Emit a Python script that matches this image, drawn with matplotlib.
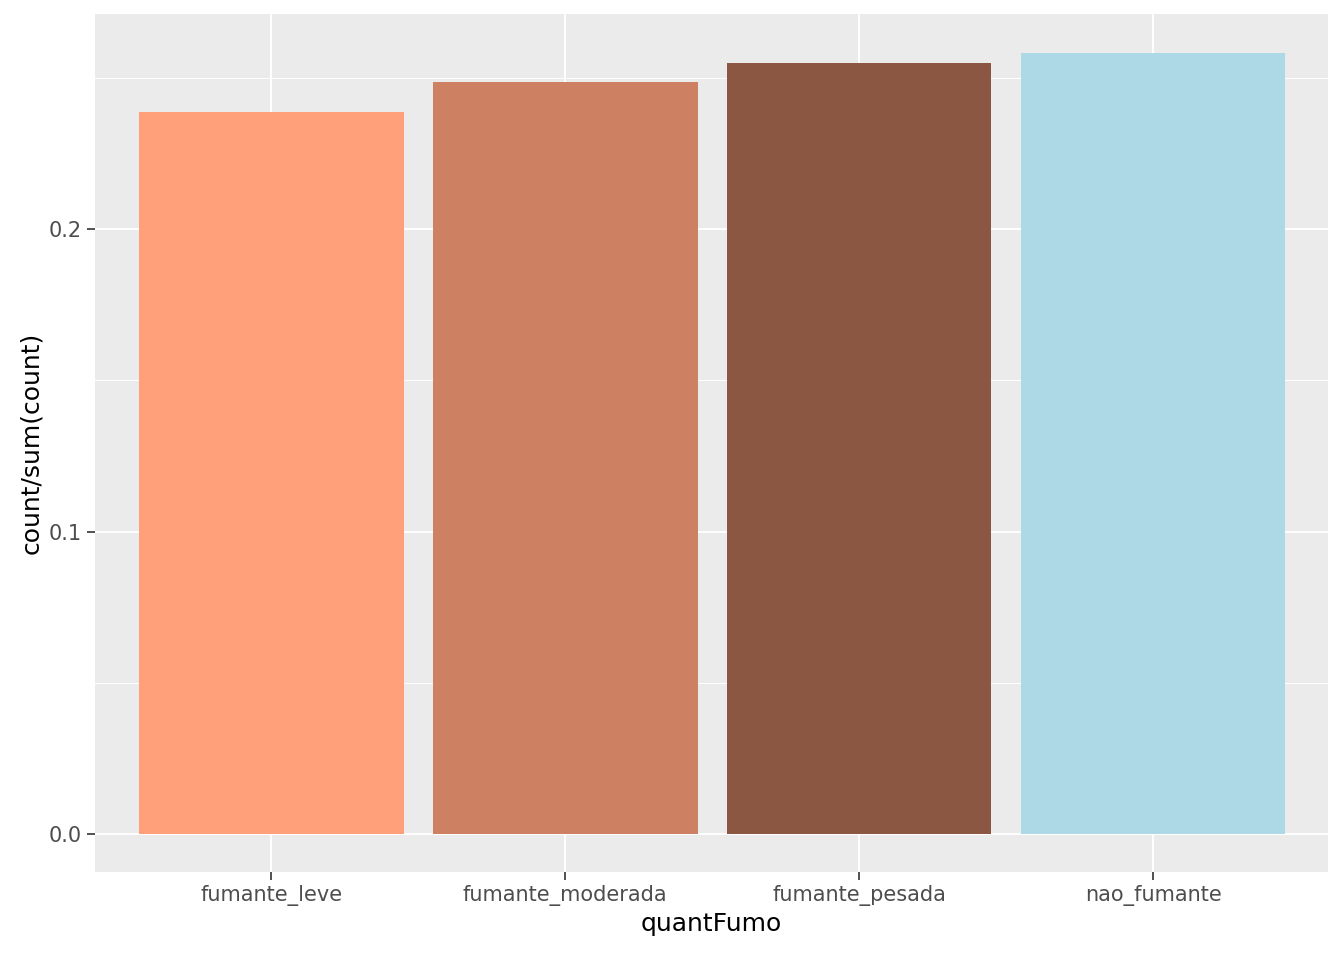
import matplotlib
matplotlib.use("Agg")
import matplotlib.pyplot as plt

categories = ["fumante_leve", "fumante_moderada", "fumante_pesada", "nao_fumante"]
values = [0.2387, 0.2486, 0.2549, 0.2582]
colors = ["#FFA07A", "#CD8162", "#8B5742", "#ADD8E6"]

fig = plt.figure(figsize=(13.44, 9.6), dpi=100)
ax = fig.add_axes([95/1344, 1-872/960, (1328-95)/1344, (872-14)/960])
ax.set_facecolor("#EBEBEB")
x = list(range(len(categories)))
ax.bar(x, values, width=0.9, color=colors, zorder=3)
ax.set_xlim(-0.6, 3.595)
ax.set_ylim(-0.01256, 0.2711)
ax.set_yticks([0.0, 0.1, 0.2])
ax.set_yticklabels(["0.0", "0.1", "0.2"])
ax.set_yticks([0.05, 0.15, 0.25], minor=True)
ax.set_xticks(x)
ax.set_xticklabels(categories)
ax.grid(True, which="major", color="white", linewidth=1.4, zorder=0)
ax.grid(True, which="minor", axis="y", color="white", linewidth=0.7, zorder=0)
ax.tick_params(which="major", length=6, width=1.2, color="#333333", labelsize=15, labelcolor="#4D4D4D")
ax.tick_params(which="minor", length=0)
for s in ax.spines.values():
    s.set_visible(False)
ax.set_xlabel("quantFumo", fontsize=18)
ax.set_ylabel("count/sum(count)", fontsize=18)
fig.savefig("out.png", dpi=100)
